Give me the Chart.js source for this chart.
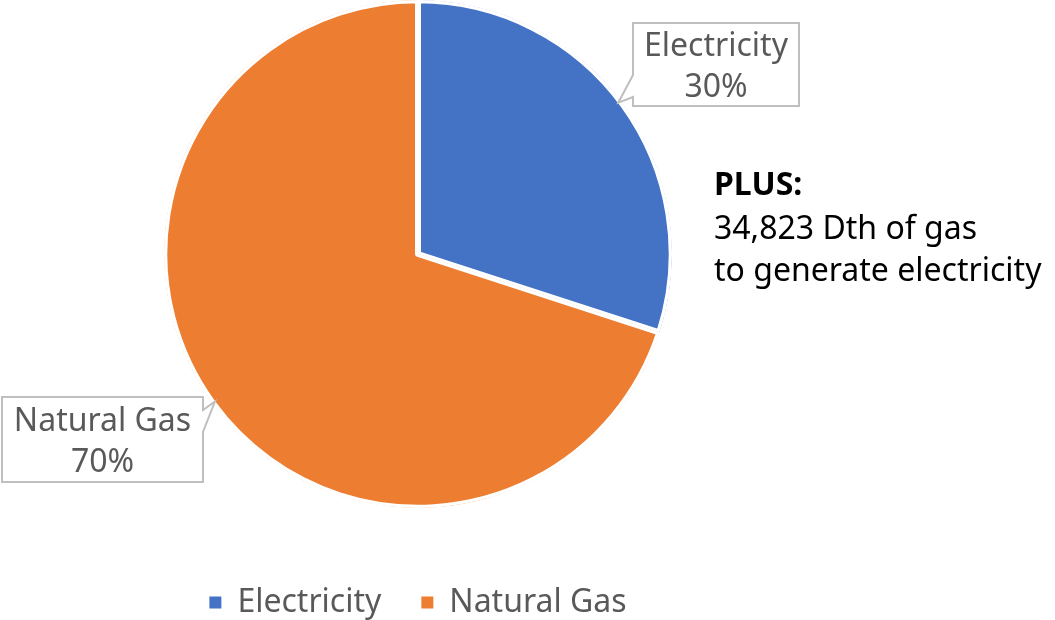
<!DOCTYPE html>
<html>
<head>
<meta charset="utf-8">
<script src="https://cdn.jsdelivr.net/npm/chart.js@4"></script>
<style>
  html, body { margin: 0; padding: 0; background: #fff; }
  #wrap { width: 1055px; height: 620px; position: relative; }
</style>
</head>
<body>
<div id="wrap"><canvas id="energy-chart"></canvas></div>
<script>
// chart data
const categories = ["Electricity", "Natural Gas"];
const shares = [30, 70];
const slice_colors = ["#4472C4", "#ED7D31"];
const note_lines = ["PLUS:", "34,823 Dth of gas", "to generate electricity"];

const label_font = "32px 'Noto Sans', sans-serif";
const label_color = "#595959";

/**
 * Draw a callout box with a pointer notch and two centered lines.
 */
function draw_callout(ctx, box, notch, lines) {
    ctx.save();
    ctx.beginPath();
    ctx.moveTo(box.x, box.y);
    ctx.lineTo(box.x + box.w, box.y);
    if (notch.side === "right") {
        ctx.lineTo(box.x + box.w, notch.a);
        ctx.lineTo(notch.tx, notch.ty);
        ctx.lineTo(box.x + box.w, notch.b);
    }
    ctx.lineTo(box.x + box.w, box.y + box.h);
    ctx.lineTo(box.x, box.y + box.h);
    if (notch.side === "left") {
        ctx.lineTo(box.x, notch.b);
        ctx.lineTo(notch.tx, notch.ty);
        ctx.lineTo(box.x, notch.a);
    }
    ctx.closePath();
    ctx.fillStyle = "#fff";
    ctx.fill();
    ctx.strokeStyle = "#BFBFBF";
    ctx.lineWidth = 2;
    ctx.stroke();

    ctx.fillStyle = label_color;
    ctx.font = label_font;
    ctx.textAlign = "center";
    ctx.textBaseline = "middle";
    let cx = box.x + box.w / 2;
    ctx.fillText(lines[0], cx, box.y + box.h * 0.29);
    ctx.fillText(lines[1], cx, box.y + box.h * 0.78);
    ctx.restore();
}

/**
 * Point on the coloured rim of an arc, at a fraction of its sweep.
 */
function rim_point(arc, frac) {
    const ang = arc.startAngle + (arc.endAngle - arc.startAngle) * frac;
    const r = arc.outerRadius - 3;
    return { x: arc.x + Math.cos(ang) * r, y: arc.y + Math.sin(ang) * r };
}

const callout_plugin = {
    id: "callouts",
    afterDraw(chart) {
        const ctx = chart.ctx;
        const meta = chart.getDatasetMeta(0);
        const total = shares.reduce((a, b) => a + b, 0);
        let pct = shares.map((v) => Math.round(v / total * 100) + "%");

        let e_tip = rim_point(meta.data[0], 0.49);
        draw_callout(ctx, { x: 633, y: 23, w: 166, h: 83 },
            { side: "left", a: 75, b: 97, tx: e_tip.x, ty: e_tip.y },
            [categories[0], pct[0]]);

        let g_tip = rim_point(meta.data[1], 0.5);
        draw_callout(ctx, { x: 2, y: 397, w: 201, h: 85 },
            { side: "right", a: 410, b: 432, tx: g_tip.x, ty: g_tip.y },
            [categories[1], pct[1]]);

        // side note
        ctx.save();
        ctx.fillStyle = "#000";
        ctx.textAlign = "left";
        ctx.textBaseline = "middle";
        ctx.font = "bold 32px 'Noto Sans', sans-serif";
        ctx.fillText(note_lines[0], 714, 186);
        ctx.font = "32px 'Noto Sans', sans-serif";
        ctx.fillText(note_lines[1], 714, 230);
        ctx.fillText(note_lines[2], 714, 272);
        ctx.restore();
    }
};

window.onload = () => {
    const el = document.querySelector("#energy-chart");
    const default_labels = Chart.overrides.pie.plugins.legend.labels.generateLabels;
    new Chart(el, {
        type: "pie",
        data: {
            labels: categories,
            datasets: [{
                data: shares,
                backgroundColor: slice_colors,
                borderColor: "#fff",
                borderWidth: 3,
                borderAlign: "inner"
            }]
        },
        options: {
            responsive: true,
            maintainAspectRatio: false,
            animation: false,
            layout: {
                padding: { top: 0, bottom: -8.4, left: 160, right: 379 }
            },
            plugins: {
                legend: {
                    position: "bottom",
                    // empty title only pushes the items down from the pie
                    title: { display: true, text: "", padding: { top: 12, bottom: 12 }, font: { size: 12 } },
                    labels: {
                        boxWidth: 12,
                        boxHeight: 12,
                        padding: 40,
                        color: label_color,
                        font: { family: "'Noto Sans', sans-serif", size: 32 },
                        generateLabels: (chart) => default_labels(chart).map((item) => {
                            item.lineWidth = 0;
                            return item;
                        })
                    }
                },
                tooltip: { enabled: false }
            }
        },
        plugins: [callout_plugin]
    });
};
</script>
</body>
</html>
